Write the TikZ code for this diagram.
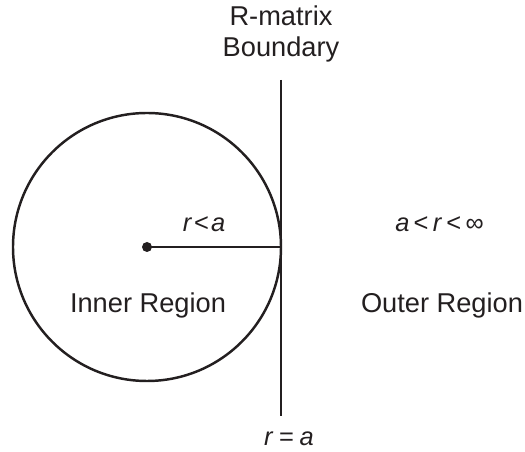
\documentclass[tikz,border=0pt]{standalone}
\usepackage{fontspec}
\setmainfont{Liberation Sans}
\usepackage{tikz}
\usetikzlibrary{positioning}

\definecolor{ink}{RGB}{35,31,32}

\tikzset{
    region/.style={font=\fontsize{15.5}{17.5}\selectfont, align=center, inner sep=0pt, text=ink},
    cond/.style={font=\fontsize{14.5}{16}\selectfont, inner sep=0pt, anchor=base, text=ink},
    rule/.style={line width=1.4pt, draw=ink},
}

\begin{document}
\begin{tikzpicture}[x=0.02cm, y=-0.02cm]

    \useasboundingbox (0,0) rectangle (525,452);

    % --- Inner sphere ---
    \coordinate (centre) at (147,247);
    \coordinate (edge) at (281,247);
    \draw[rule] (centre) circle (134);
    \fill[ink] (centre) circle (5);
    \draw[rule] (centre) -- (edge);

    % --- Boundary line ---
    \coordinate (btop) at (281,80);
    \coordinate (bbot) at (281,416);
    \draw[rule] (btop) -- (bbot);

    % --- Labels ---
    \node[region] (title) at (281,34) {R-matrix\\Boundary};
    \node[cond] (inner cond) at (204,232) {\textit{r}\hspace{0.08em}<\hspace{0.08em}\textit{a}};
    \node[cond] (outer cond) at (439.5,232) {\textit{a}\,<\,\textit{r}\,<\,∞};
    \node[region] (inner) at (148,305) {Inner Region};
    \node[region] (outer) at (442,305) {Outer Region};
    \node[cond] (bound) at (289,446) {\textit{r}\:=\:\textit{a}};

\end{tikzpicture}
\end{document}
